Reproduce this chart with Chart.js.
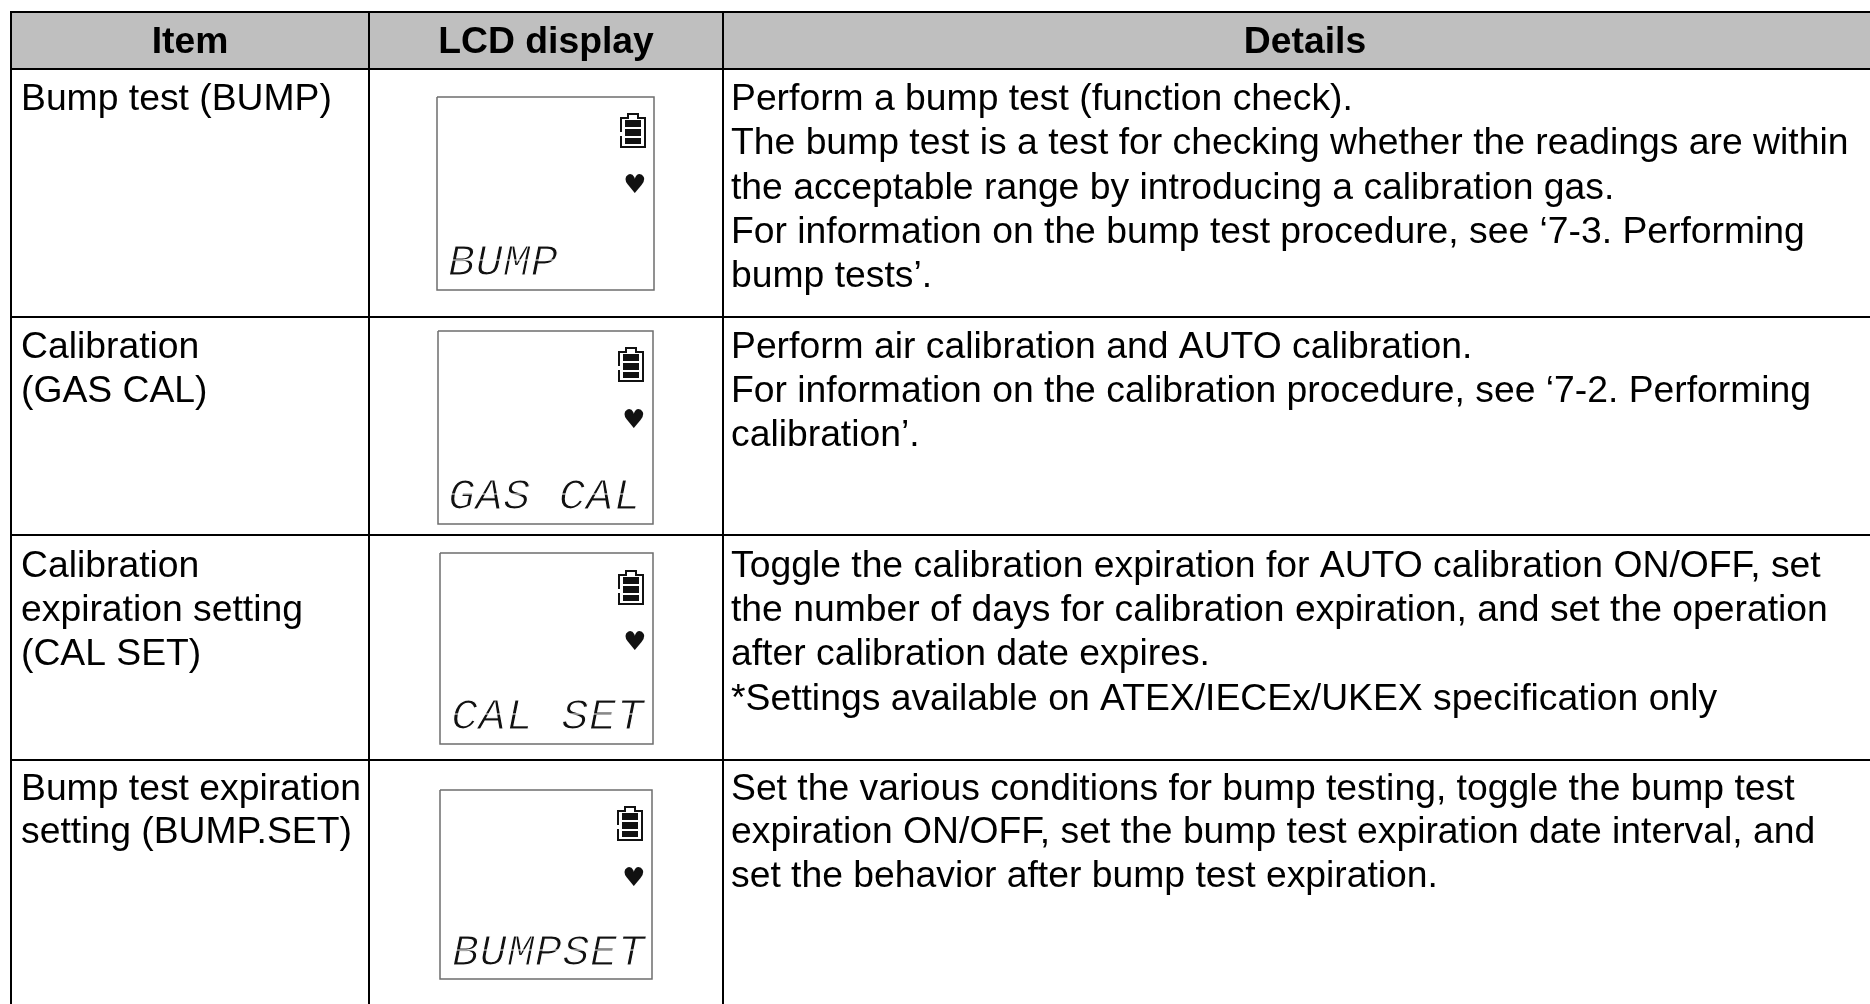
<!DOCTYPE html>
<html>
<head>
<meta charset="utf-8">
<title>Maintenance menu</title>
<script src="https://cdn.jsdelivr.net/npm/chart.js@4"></script>
<style>
  html, body { margin: 0; padding: 0; background: #fff; }
  canvas { display: block; }
</style>
</head>
<body>
<canvas id="myChart" width="1870" height="1004"></canvas>
<script>
const headers = ['Item', 'LCD display', 'Details'];
const items = [
  ['Bump test (BUMP)'],
  ['Calibration', '(GAS CAL)'],
  ['Calibration', 'expiration setting', '(CAL SET)'],
  ['Bump test expiration', 'setting (BUMP.SET)']
];
const lcdTexts = ['BUMP', 'GAS CAL', 'CAL SET', 'BUMPSET'];
const details = [
  ['Perform a bump test (function check).',
   'The bump test is a test for checking whether the readings are within',
   'the acceptable range by introducing a calibration gas.',
   'For information on the bump test procedure, see \u20187-3. Performing',
   'bump tests\u2019.'],
  ['Perform air calibration and AUTO calibration.',
   'For information on the calibration procedure, see \u20187-2. Performing',
   'calibration\u2019.'],
  ['Toggle the calibration expiration for AUTO calibration ON/OFF, set',
   'the number of days for calibration expiration, and set the operation',
   'after calibration date expires.',
   '*Settings available on ATEX/IECEx/UKEX specification only'],
  ['Set the various conditions for bump testing, toggle the bump test',
   'expiration ON/OFF, set the bump test expiration date interval, and',
   'set the behavior after bump test expiration.']
];

// table geometry, in scale units (same as page pixels)
const columnEdges = [11, 369, 723];
const columnEnd = 1870;
const rowEdges = [12, 69, 317, 535, 760];
const tableBottom = 1004;
const headerCenters = [190, 546, 1305];
const firstBaselines = [110, 358, 577, 800];
const lineSteps = [44.3, 44, 44.2, 43.4];
const panelLeft = [437, 438, 440, 440];
const panelRight = [654, 653, 653, 652];
const panelTop = [97, 331, 553, 790];
const panelBottom = [290, 524, 744, 979];
const batteryLeft = [620, 618, 618, 617];
const batteryTop = [113, 347, 570, 806];
const heartX = [635, 634, 635, 634];
const heartY = [183, 418, 640, 876];
const lcdLeft = [448, 448, 451, 452];
const lcdBase = [275, 509, 729, 965];

const lineSet = (pts, color, width, extra) => Object.assign({
  type: 'line',
  data: pts,
  borderColor: color,
  borderWidth: width,
  pointRadius: 0,
  tension: 0,
  fill: false,
  clip: false
}, extra || {});

const datasets = [];

// header band
datasets.push(lineSet(
  [{x: columnEdges[0], y: rowEdges[0]}, {x: columnEnd, y: rowEdges[0]}],
  'rgba(0,0,0,0)', 0,
  {fill: {target: {value: rowEdges[1]}}, backgroundColor: '#bfbfbf', order: 5}
));

// table rules
rowEdges.forEach(y => {
  datasets.push(lineSet([{x: columnEdges[0] - 1, y: y}, {x: columnEnd, y: y}], '#000', 2, {order: 1}));
});
columnEdges.forEach(x => {
  datasets.push(lineSet([{x: x, y: rowEdges[0]}, {x: x, y: tableBottom}], '#000', 2, {order: 1}));
});

// LCD panel frames
panelLeft.forEach((l, i) => {
  const r = panelRight[i], t = panelTop[i], b = panelBottom[i];
  datasets.push(lineSet(
    [{x: l, y: t}, {x: r, y: t}, {x: r, y: b}, {x: l, y: b}, {x: l, y: t}],
    '#6e6e6e', 1.5, {order: 2}
  ));
});

const tablePlugin = {
  id: 'tableText',
  afterDatasetsDraw(chart) {
    const c = chart.ctx;
    const sx = chart.scales.x;
    const sy = chart.scales.y;
    const px = v => sx.getPixelForValue(v);
    const py = v => sy.getPixelForValue(v);
    c.save();
    c.fillStyle = '#000';
    c.textBaseline = 'alphabetic';

    c.font = 'bold 37.3px "Liberation Sans"';
    c.textAlign = 'center';
    headers.forEach((h, i) => c.fillText(h, px(headerCenters[i]), py(53)));

    c.font = '37.3px "Liberation Sans"';
    c.textAlign = 'left';
    items.forEach((lines, i) => {
      lines.forEach((t, k) => c.fillText(t, px(21), py(firstBaselines[i] + k * lineSteps[i])));
    });
    details.forEach((lines, i) => {
      lines.forEach((t, k) => c.fillText(t, px(731), py(firstBaselines[i] + k * lineSteps[i])));
    });

    lcdTexts.forEach((t, i) => {
      // battery
      const bx = px(batteryLeft[i]);
      const by = py(batteryTop[i]);
      c.strokeStyle = '#111';
      c.lineWidth = 2;
      c.beginPath();
      c.moveTo(bx + 1, by + 19);
      c.lineTo(bx + 1, by + 5);
      c.lineTo(bx + 8, by + 5);
      c.lineTo(bx + 8, by + 1);
      c.lineTo(bx + 18, by + 1);
      c.lineTo(bx + 18, by + 5);
      c.lineTo(bx + 25, by + 5);
      c.lineTo(bx + 25, by + 34);
      c.lineTo(bx + 1, by + 34);
      c.lineTo(bx + 1, by + 23);
      c.stroke();
      c.fillStyle = '#111';
      c.fillRect(bx + 5, by + 7, 16, 7);
      c.fillRect(bx + 5, by + 16, 16, 7);
      c.fillRect(bx + 5, by + 25, 16, 6);

      // heart
      c.font = '26px "DejaVu Sans"';
      c.textAlign = 'center';
      c.fillText('\u2665', px(heartX[i]), py(heartY[i] + 10));

      // segment style caption
      c.font = 'italic 45px "Liberation Mono"';
      c.letterSpacing = '0.6px';
      c.textAlign = 'left';
      c.fillStyle = '#111';
      c.fillText(t, px(lcdLeft[i]), py(lcdBase[i]));
      c.strokeStyle = '#fff';
      c.lineWidth = 1.2;
      c.strokeText(t, px(lcdLeft[i]), py(lcdBase[i]));
      c.letterSpacing = '0px';
      c.beginPath();
      c.moveTo(px(lcdLeft[i] - 4), py(lcdBase[i] - 15));
      c.lineTo(px(lcdLeft[i] + 195), py(lcdBase[i] - 15));
      c.stroke();
      c.fillStyle = '#000';
    });
    c.restore();
  }
};

new Chart(document.getElementById('myChart'), {
  type: 'line',
  data: { datasets: datasets },
  options: {
    responsive: false,
    animation: false,
    layout: { padding: 0 },
    plugins: { legend: { display: false }, tooltip: { enabled: false }, title: { display: false } },
    scales: {
      x: { type: 'linear', display: false, min: 0, max: 1870 },
      y: { type: 'linear', display: false, min: 0, max: 1004, reverse: true }
    }
  },
  plugins: [tablePlugin]
});
</script>
</body>
</html>
